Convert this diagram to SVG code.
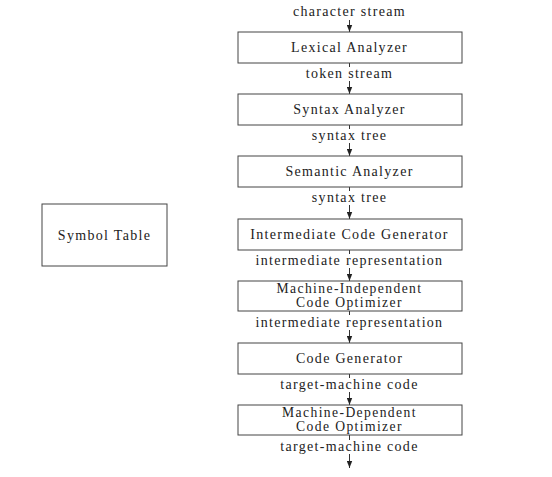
<svg xmlns="http://www.w3.org/2000/svg" width="552" height="477" viewBox="0 0 552 477">
<defs>
<marker id="ah" viewBox="0 0 7 6" refX="7" refY="3" markerWidth="7" markerHeight="6" markerUnits="userSpaceOnUse" orient="auto">
<path d="M0,0.3 L7,3 L0,5.7 Z" fill="#222"/>
</marker>
<style>
.box{fill:#fff;stroke:#444;stroke-width:1}
.t{font-family:"Liberation Serif","DejaVu Serif",serif;font-size:14px;letter-spacing:1.3px;fill:#222;text-anchor:middle}
.s{font-size:13.6px;letter-spacing:1.4px}
.c{stroke:#333;stroke-width:1;fill:none}
.a{stroke:#333;stroke-width:1;fill:none;marker-end:url(#ah)}
</style>
</defs>
<rect width="552" height="477" fill="#fff"/>
<g id="connectors">
<line class="a" x1="349.5" y1="20" x2="349.5" y2="32"/>
<line class="c" x1="349.5" y1="63" x2="349.5" y2="67"/>
<line class="a" x1="349.5" y1="81" x2="349.5" y2="94"/>
<line class="c" x1="349.5" y1="125" x2="349.5" y2="129"/>
<line class="a" x1="349.5" y1="143" x2="349.5" y2="156"/>
<line class="c" x1="349.5" y1="187" x2="349.5" y2="191"/>
<line class="a" x1="349.5" y1="205" x2="349.5" y2="219"/>
<line class="c" x1="349.5" y1="250" x2="349.5" y2="254"/>
<line class="a" x1="349.5" y1="268" x2="349.5" y2="281"/>
<line class="c" x1="349.5" y1="311" x2="349.5" y2="315"/>
<line class="a" x1="349.5" y1="330" x2="349.5" y2="343"/>
<line class="c" x1="349.5" y1="374" x2="349.5" y2="378"/>
<line class="a" x1="349.5" y1="392" x2="349.5" y2="405"/>
<line class="c" x1="349.5" y1="435" x2="349.5" y2="440"/>
<line class="a" x1="349.5" y1="454" x2="349.5" y2="468"/>
</g>
<g id="labels">
<text class="t" x="349.5" y="16">character stream</text>
<text class="t" x="349.5" y="78">token stream</text>
<text class="t" x="349.5" y="140">syntax tree</text>
<text class="t" x="349.5" y="202">syntax tree</text>
<text class="t" x="349.5" y="265">intermediate representation</text>
<text class="t" x="349.5" y="327">intermediate representation</text>
<text class="t" x="349.5" y="389">target-machine code</text>
<text class="t" x="349.5" y="451">target-machine code</text>
</g>
<g id="lexical"><rect class="box" x="238" y="32" width="224" height="31"/><text class="t" x="349.5" y="52">Lexical Analyzer</text></g>
<g id="syntax"><rect class="box" x="238" y="94" width="224" height="31"/><text class="t" x="349.5" y="114">Syntax Analyzer</text></g>
<g id="semantic"><rect class="box" x="238" y="156" width="224" height="31"/><text class="t" x="349.5" y="176">Semantic Analyzer</text></g>
<g id="intermediate"><rect class="box" x="238" y="219" width="224" height="31"/><text class="t" x="349.5" y="239">Intermediate Code Generator</text></g>
<g id="mi-optimizer"><rect class="box" x="238" y="281" width="224" height="30"/><text class="t s" x="349.5" y="293">Machine-Independent<tspan x="349.5" dy="13.5">Code Optimizer</tspan></text></g>
<g id="codegen"><rect class="box" x="238" y="343" width="224" height="31"/><text class="t" x="349.5" y="363">Code Generator</text></g>
<g id="md-optimizer"><rect class="box" x="238" y="405" width="224" height="30"/><text class="t s" x="349.5" y="417">Machine-Dependent<tspan x="349.5" dy="13.5">Code Optimizer</tspan></text></g>
<g id="symbol-table"><rect class="box" x="42" y="204" width="125" height="62"/><text class="t" x="104.5" y="240">Symbol Table</text></g>
</svg>
